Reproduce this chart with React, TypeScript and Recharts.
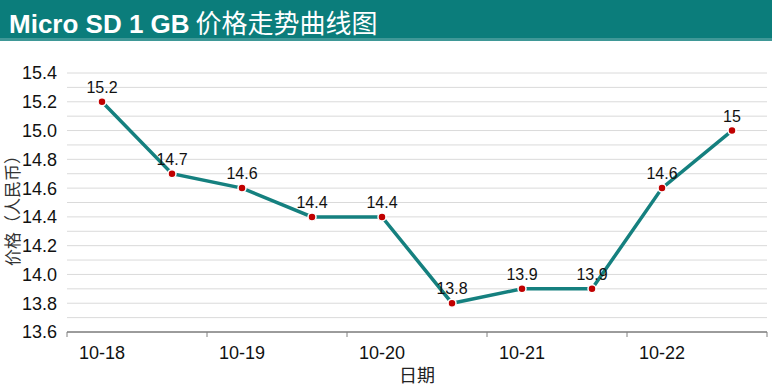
import React from "react";
import { LineChart, Line, XAxis, YAxis, CartesianGrid, LabelList } from "recharts";

const CATEGORIES = ["10-18", "10-18 pm", "10-19", "10-19 pm", "10-20", "10-20 pm", "10-21", "10-21 pm", "10-22", "10-22 pm"];
const PRICES = [15.2, 14.7, 14.6, 14.4, 14.4, 13.8, 13.9, 13.9, 14.6, 15];
const Y_TICKS = [13.6, 13.7, 13.8, 13.9, 14.0, 14.1, 14.2, 14.3, 14.4, 14.5, 14.6, 14.7, 14.8, 14.9, 15.0, 15.1, 15.2, 15.3, 15.4];
const LABELED_Y = [13.6, 13.8, 14.0, 14.2, 14.4, 14.6, 14.8, 15.0, 15.2, 15.4];

const TEAL = "#0b7d7b";
const FONT = "'Liberation Sans', Arial, 'Noto Sans CJK SC', sans-serif";
const CJK = "'Noto Sans CJK SC', sans-serif";

const data = CATEGORIES.map((c, i) => ({ day: c, price: PRICES[i] }));

const BAND = 70;

const DateTick = (props: any) => {
  const { x, y, payload } = props;
  const half = payload && payload.offset ? payload.offset : BAND / 2;
  const label = String(payload.value).split(" ")[0];
  const isLast = payload.index === CATEGORIES.length - 2;
  return (
    <g>
      <line x1={x - half} y1={y} x2={x - half} y2={y + 5} stroke="#808080" />
      {isLast && <line x1={x + 3 * half} y1={y} x2={x + 3 * half} y2={y + 5} stroke="#808080" />}
      <text x={x} y={y + 27} textAnchor="middle" fill="#111" fontSize={18} fontFamily={FONT}>
        {label}
      </text>
    </g>
  );
};

const YTitle = (props: any) => {
  const vb = props.viewBox || {};
  const cy = (vb.y || 0) + (vb.height || 0) / 2 + 4;
  const cx = 19;
  return (
    <text x={cx} y={cy} transform={`rotate(-90 ${cx} ${cy})`} textAnchor="middle" fill="#333" fontSize={17} fontFamily={CJK}>
      价格（人民币）
    </text>
  );
};

export default function App() {
  return (
    <div style={{ position: "absolute", left: 0, top: 0, width: 772, height: 388, background: "#fff", fontFamily: FONT }}>
      <div style={{ position: "absolute", left: 0, top: 0, width: 772, height: 41, background: TEAL, borderBottom: "3px solid #3f9897", boxSizing: "border-box" }}>
        <div style={{ position: "absolute", left: 9, top: 3, color: "#fff", fontSize: 26, whiteSpace: "nowrap" }}>
          <span style={{ fontWeight: "bold" }}>Micro SD 1 GB</span>
          <span style={{ fontFamily: CJK }}> 价格走势曲线图</span>
        </div>
      </div>
      <div style={{ position: "absolute", left: 0, top: 0 }}>
        <LineChart width={772} height={388} data={data} margin={{ top: 73, right: 5, bottom: 0, left: 0 }}>
          <CartesianGrid vertical={false} stroke="#dadada" />
          <XAxis
            dataKey="day"
            scale="band"
            interval={1}
            tickLine={false}
            tickSize={0}
            tickMargin={0}
            stroke="#808080"
            strokeWidth={1.5}
            tick={<DateTick />}
            height={56}
            label={{ value: "日期", position: "insideBottom", offset: 6, fill: "#222", fontSize: 18, fontFamily: CJK }}
          />
          <YAxis
            domain={[13.6, 15.4]}
            ticks={Y_TICKS}
            interval={0}
            axisLine={false}
            tickLine={false}
            width={67}
            tickMargin={4}
            tick={{ fill: "#111", fontSize: 18, fontFamily: FONT }}
            tickFormatter={(v: number) => (LABELED_Y.some((t) => Math.abs(t - v) < 1e-6) ? v.toFixed(1) : "")}
            label={<YTitle />}
          />
          <Line
            type="linear"
            dataKey="price"
            stroke="#15807f"
            strokeWidth={3.5}
            isAnimationActive={false}
            dot={{ r: 4, fill: "#c00000", stroke: "#fff", strokeWidth: 1.5 }}
            activeDot={false}
          >
            <LabelList dataKey="price" position="top" offset={9} fill="#111" fontSize={16} fontFamily={FONT} />
          </Line>
        </LineChart>
      </div>
    </div>
  );
}
